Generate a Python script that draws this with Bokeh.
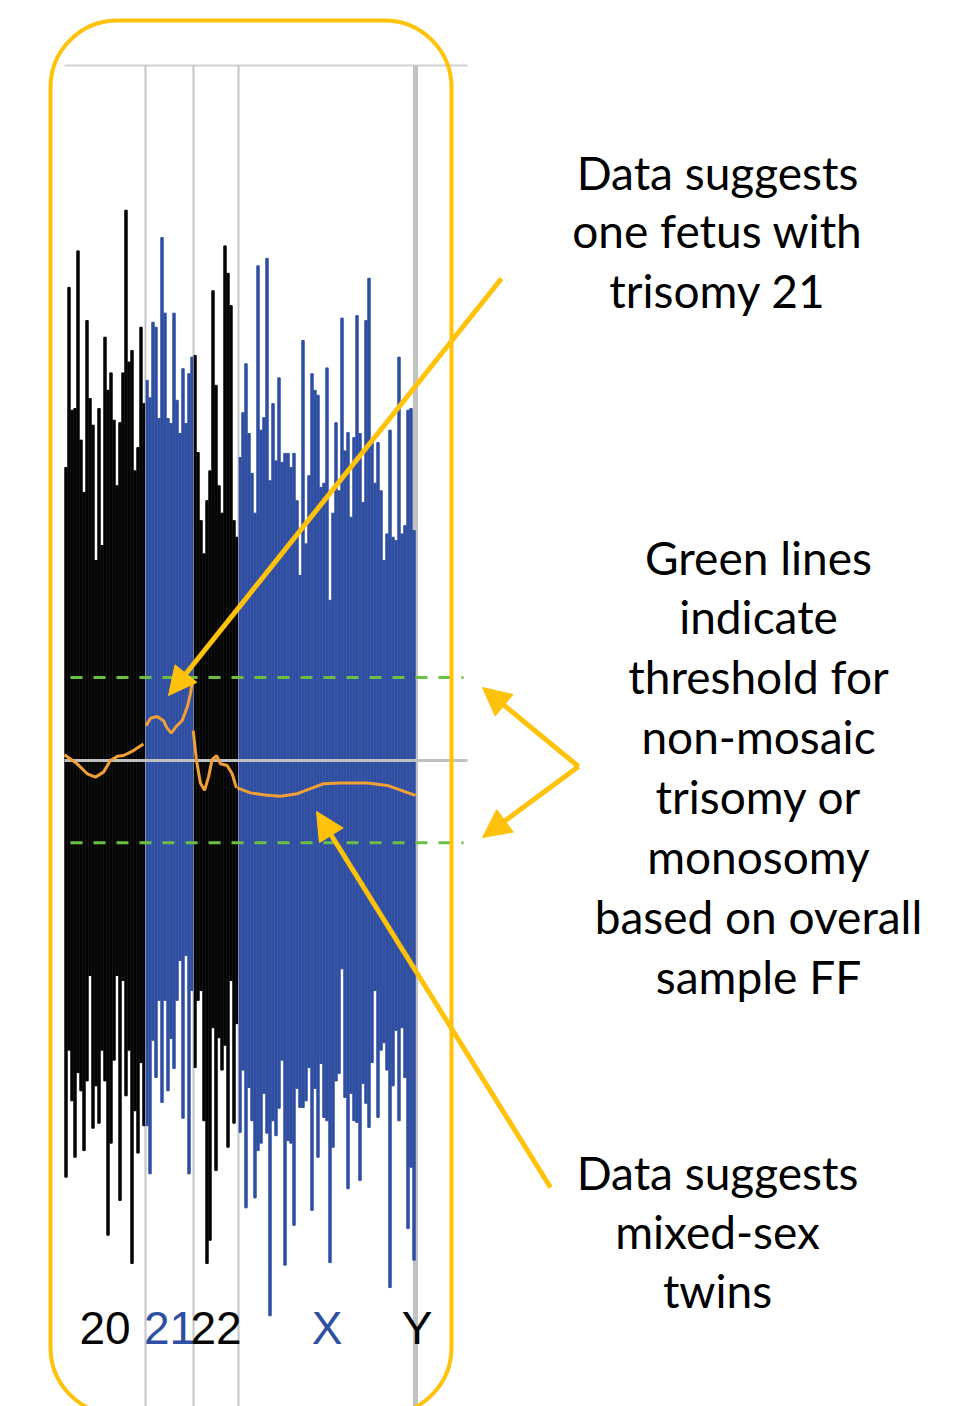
import numpy as np
from bokeh.plotting import figure
from bokeh.models import Range1d, ColumnDataSource, Label, Arrow, NormalHead, BoxAnnotation
from bokeh.core.properties import value
from bokeh.embed import file_html
from bokeh.resources import INLINE

# ---------------- data ----------------
chrom_labels = ["20", "21", "22", "X", "Y"]
chrom_colors = ["#050505", "#2f4fa2", "#050505", "#2f4fa2", "#050505"]

# per-bin upper / lower extents of normalised read-count deviation
chr20_top = [35.3, 57.0, 42.2, 42.4, 61.4, 38.6, 32.3, 53.0, 43.6, 40.4, 24.1, 42.4, 25.9, 51.0,
             44.6, 46.7, 41.0, 33.1, 40.7, 46.7, 66.3, 48.0, 49.4, 34.9, 37.7, 52.2, 43.0]
chr20_bottom = [-50.2, -34.9, -41.0, -47.8, -37.6, -39.8, -47.0, -38.6, -25.9, -44.3, -39.2, -43.7,
                -34.9, -38.6, -57.2, -46.1, -36.1, -25.9, -53.0, -26.5, -40.4, -34.9, -60.6, -42.2,
                -47.3, -36.4, -44.0]

chr21_top = [45.8, 43.7, 52.8, 52.2, 41.2, 63.0, 53.9, 41.2, 40.6, 53.9, 43.4, 39.4, 47.2, 40.6,
             46.6, 48.6]
chr21_bottom = [-44.0, -49.8, -33.7, -38.2, -28.9, -41.2, -28.9, -39.8, -33.5, -37.1, -28.9, -24.1,
                -43.1, -23.5, -49.8, -27.7]

chr22_top = [48.8, 37.1, 28.9, 24.9, 31.3, 34.9, 56.6, 45.2, 33.1, 29.8, 62.0, 58.7, 54.8, 28.9, 26.9]
chr22_bottom = [-37.0, -28.9, -27.7, -43.4, -60.6, -57.8, -32.2, -49.4, -33.4, -37.3, -34.3, -46.6,
                -26.5, -43.7, -31.7]

chrX_top = [36.5, 41.9, 47.8, 39.4, 34.6, 29.8, 59.6, 39.8, 41.3, 60.5, 33.7, 43.0, 36.1, 46.1,
            35.9, 37.0, 37.0, 35.3, 37.0, 31.3, 22.3, 50.6, 26.1, 34.3, 46.6, 44.6, 44.0, 32.9,
            33.4, 47.3, 19.3, 29.8, 40.7, 32.5, 53.3, 37.3, 39.5, 29.3, 38.9, 53.6, 39.4, 31.1,
            53.0, 58.1, 38.6, 33.4, 38.3, 32.5, 24.1, 27.3, 39.8, 26.9, 26.5, 48.6, 27.3, 28.3,
            42.2, 42.4, 27.7]
chrX_bottom = [-44.8, -37.3, -53.9, -39.4, -43.4, -52.7, -47.0, -46.1, -40.1, -44.9, -66.9, -43.4,
               -45.2, -41.9, -36.1, -60.8, -45.8, -46.1, -56.0, -39.5, -41.8, -41.8, -41.0, -37.0,
               -54.2, -39.5, -47.8, -36.5, -43.0, -43.4, -60.5, -46.6, -38.6, -37.7, -25.1, -40.6,
               -51.6, -40.1, -43.4, -43.6, -50.6, -38.9, -41.3, -44.2, -36.4, -27.7, -43.0, -34.9,
               -34.0, -37.3, -63.5, -39.2, -32.5, -43.4, -32.2, -38.2, -56.4, -49.0, -60.2]

chrY_top = []
chrY_bottom = []
chrY_span = 1  # Y occupies one bin width, no plotted bins

# smoothed trend (orange), x in bin coordinates along the genome
trend20_x = [0, 4.2, 7.6, 10.3, 13.0, 15.3, 17.6, 19.7, 23.0, 26.3]
trend20_y = [0.7, -0.4, -1.6, -2.0, -1.4, 0.0, 0.5, 0.6, 1.2, 2.0]
trend21_x = [27.2, 28.7, 30.9, 33.0, 34.2, 35.6, 37.0, 39.2, 40.9, 42.0, 42.6]
trend21_y = [4.2, 5.1, 5.3, 4.8, 3.9, 3.3, 4.0, 4.8, 6.4, 8.1, 9.6]
trend22_x = [42.9, 44.0, 45.3, 46.7, 48.0, 49.2, 50.7, 52.0, 54.2, 55.9, 57.3]
trend22_y = [3.6, 0.0, -2.7, -3.6, -2.0, 0.1, 0.6, -0.4, -0.6, -1.6, -3.3]
trendX_x = [57.6, 62.0, 67.6, 72.0, 77.6, 82.0, 86.3, 92.0, 100.9, 107.6, 113.0, 117.0]
trendX_y = [-3.3, -3.9, -4.2, -4.3, -4.0, -3.4, -2.8, -2.7, -2.7, -3.0, -3.7, -4.2]

threshold_upper = 10.0
threshold_lower = -9.9

# ---------------- layout helpers (screen px -> data) ----------------
def X(px):
    return (px - 64) / 3.0

def Y(py):
    return (760 - py) / 8.3

YEL = "#FFC20A"

# ---------------- build bins ----------------
tops = [chr20_top, chr21_top, chr22_top, chrX_top, chrY_top]
bottoms = [chr20_bottom, chr21_bottom, chr22_bottom, chrX_bottom, chrY_bottom]
bx, bt, bb, bc = [], [], [], []
starts, centers = [], []
off = 0.0
for i, (t, b) in enumerate(zip(tops, bottoms)):
    n = len(t) if len(t) else chrY_span
    starts.append(off)
    centers.append(off + n / 2.0)
    for k in range(len(t)):
        bx.append(off + k + 0.5)
        bt.append(t[k])
        bb.append(b[k])
        bc.append(chrom_colors[i])
    off += n
src = ColumnDataSource(dict(x=bx, top=bt, bottom=bb, color=bc))

x_end = X(467)
axis_top = Y(65)
bottom_edge = Y(1406)

p = figure(width=972, height=1406, x_range=Range1d(X(0), X(972)), y_range=Range1d(Y(1406), Y(0)),
           output_backend="svg", toolbar_location=None, min_border=0,
           x_axis_location=None, y_axis_location=None, outline_line_color=None,
           background_fill_color="white", border_fill_color="white")
p.grid.visible = False

# frame lines
p.segment(x0=[0], y0=[axis_top], x1=[x_end], y1=[axis_top], line_color="#d2d2d2", line_width=2)
vx = starts[1:]
p.segment(x0=vx, y0=[bottom_edge] * len(vx), x1=vx, y1=[axis_top] * len(vx),
          line_color="#c2c2c2", line_width=[2, 2, 2, 5])

# bins
p.vbar(x="x", width=0.8, top="top", bottom="bottom", fill_color="color", line_color="color",
       line_width=1, source=src)

# thin boundary lines over the data
p.segment(x0=vx[:3], y0=[bottom_edge] * 3, x1=vx[:3], y1=[axis_top] * 3,
          line_color="#c8c8d8", line_width=1, line_alpha=0.55)

# zero line
p.segment(x0=[0], y0=[0], x1=[x_end], y1=[0], line_color="#c0c0c0", line_width=3)

# thresholds
p.multi_line(xs=[[X(70), X(463)], [X(70), X(463)]], ys=[[threshold_upper] * 2, [threshold_lower] * 2],
             line_color="#6cbf45", line_width=3, line_dash="12 11")

# trend
p.multi_line(xs=[trend20_x, trend21_x, trend22_x, trendX_x], ys=[trend20_y, trend21_y, trend22_y, trendX_y],
             line_color="#f0a035", line_width=3)

# chromosome labels
p.text(x=centers, y=[Y(1327)] * len(centers), text=chrom_labels, text_color=chrom_colors,
       text_font=value("Liberation Sans"), text_font_size="46px", text_align="center",
       text_baseline="middle")

# rounded highlight box
p.add_layout(BoxAnnotation(left=X(50), right=X(451), top=Y(20), bottom=Y(1414), fill_alpha=0,
                           line_color=YEL, line_alpha=1.0, line_width=4, border_radius=67))

# annotation texts
FONT = "Lato"
FS = "46px"
blocks = [
    (717, [("Data suggests", 172), ("one fetus with", 230), ("trisomy 21", 290)]),
    (758, [("Green lines", 557), ("indicate", 616), ("threshold for", 676), ("non-mosaic", 736),
           ("trisomy or", 796), ("monosomy", 856), ("based on overall", 916), ("sample FF", 976)]),
    (717, [("Data suggests", 1172), ("mixed-sex", 1231), ("twins", 1290)]),
]
for cx, lines in blocks:
    for txt, cy in lines:
        p.add_layout(Label(x=X(cx), y=Y(cy), text=txt, text_align="center", text_baseline="middle",
                           text_font=FONT, text_font_size=FS, text_color="#000000"))

# arrows
arrows = [((501, 278), (168, 695)), ((550, 1187), (316, 811)),
          ((578, 766), (482, 687)), ((578, 766), (482, 837))]
for (sx, sy), (ex, ey) in arrows:
    p.add_layout(Arrow(end=NormalHead(size=28, fill_color=YEL, line_color=YEL, line_width=1),
                       x_start=X(sx), y_start=Y(sy), x_end=X(ex), y_end=Y(ey),
                       line_color=YEL, line_width=5))

open("out.html", "w").write(file_html(p, INLINE))
